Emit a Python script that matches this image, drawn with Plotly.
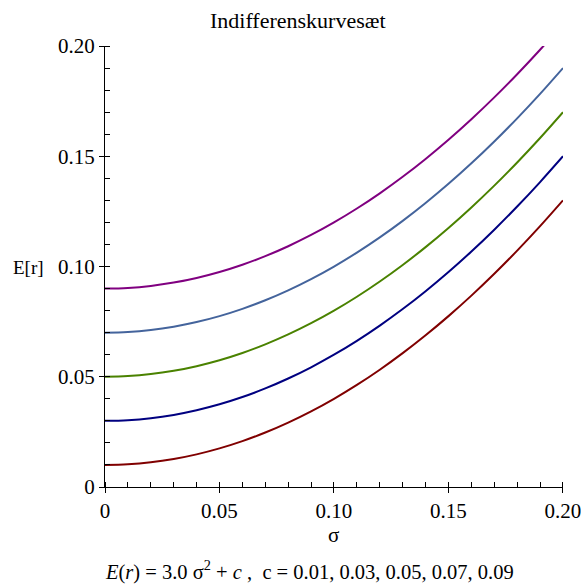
import plotly.graph_objects as go

sigma = [0.00, 0.01, 0.02, 0.03, 0.04, 0.05, 0.06, 0.07, 0.08, 0.09, 0.10,
         0.11, 0.12, 0.13, 0.14, 0.15, 0.16, 0.17, 0.18, 0.19, 0.20]

e_c001 = [0.0100, 0.0103, 0.0112, 0.0127, 0.0148, 0.0175, 0.0208, 0.0247, 0.0292, 0.0343, 0.0400,
          0.0463, 0.0532, 0.0607, 0.0688, 0.0775, 0.0868, 0.0967, 0.1072, 0.1183, 0.1300]
e_c003 = [0.0300, 0.0303, 0.0312, 0.0327, 0.0348, 0.0375, 0.0408, 0.0447, 0.0492, 0.0543, 0.0600,
          0.0663, 0.0732, 0.0807, 0.0888, 0.0975, 0.1068, 0.1167, 0.1272, 0.1383, 0.1500]
e_c005 = [0.0500, 0.0503, 0.0512, 0.0527, 0.0548, 0.0575, 0.0608, 0.0647, 0.0692, 0.0743, 0.0800,
          0.0863, 0.0932, 0.1007, 0.1088, 0.1175, 0.1268, 0.1367, 0.1472, 0.1583, 0.1700]
e_c007 = [0.0700, 0.0703, 0.0712, 0.0727, 0.0748, 0.0775, 0.0808, 0.0847, 0.0892, 0.0943, 0.1000,
          0.1063, 0.1132, 0.1207, 0.1288, 0.1375, 0.1468, 0.1567, 0.1672, 0.1783, 0.1900]
e_c009 = [0.0900, 0.0903, 0.0912, 0.0927, 0.0948, 0.0975, 0.1008, 0.1047, 0.1092, 0.1143, 0.1200,
          0.1263, 0.1332, 0.1407, 0.1488, 0.1575, 0.1668, 0.1767, 0.1872, 0.1983, 0.2100]

series = [
    ("c = 0.01", e_c001, "#800000"),
    ("c = 0.03", e_c003, "#000080"),
    ("c = 0.05", e_c005, "#4a8200"),
    ("c = 0.07", e_c007, "#44649c"),
    ("c = 0.09", e_c009, "#800080"),
]

tick_vals = [0, 0.05, 0.10, 0.15, 0.20]
tick_text = ["0", "0.05", "0.10", "0.15", "0.20"]

FONT = "Times New Roman, Liberation Serif, serif"

fig = go.Figure()
for name, ys, col in series:
    fig.add_trace(go.Scatter(x=sigma, y=ys, mode="lines", name=name,
                             line=dict(color=col, width=2, shape="spline"),
                             showlegend=False))

axis_common = dict(
    showgrid=False, zeroline=False, showline=True, linecolor="black", linewidth=1,
    ticks="outside", ticklen=5, tickcolor="black", tickwidth=1,
    tickvals=tick_vals, ticktext=tick_text,
    tickfont=dict(family=FONT, size=21, color="black"),
    range=[0, 0.20001],
    ticklabeloverflow="allow",
    automargin=False,
    minor=dict(ticks="inside", tickvals=[i / 100 for i in range(21)], ticklen=5,
               tickcolor="black", tickwidth=1),
)

fig.update_layout(
    width=581, height=586,
    margin=dict(l=105, r=18, t=46, b=99),
    plot_bgcolor="white", paper_bgcolor="white",
    xaxis=axis_common,
    yaxis=axis_common,
    font=dict(family=FONT, color="black"),
    annotations=[
        dict(text="Indifferenskurvesæt", x=298, y=20, showarrow=False, font=dict(family=FONT, size=22)),
        dict(text="E[r]", x=28, y=267, showarrow=False, font=dict(family=FONT, size=19)),
        dict(text="σ", x=333, y=535, showarrow=False, font=dict(family=FONT, size=21)),
        dict(text="<i>E</i>(<i>r</i>) = 3.0 σ<sup>2</sup> + <i>c</i> ,  c = 0.01, 0.03, 0.05, 0.07, 0.09",
             x=309, y=570, showarrow=False, font=dict(family=FONT, size=20.5)),
    ],
)

# convert pixel-based annotation positions to paper coordinates
pl, pr, pt, pb = 105, 581 - 18, 46, 586 - 99
for a in fig.layout.annotations:
    px, py = a.x, a.y
    a.x = (px - pl) / (pr - pl)
    a.y = (pb - py) / (pb - pt)
    a.xref = "paper"
    a.yref = "paper"
    a.xanchor = "center"
    a.yanchor = "middle"

fig.write_html("out.html")
